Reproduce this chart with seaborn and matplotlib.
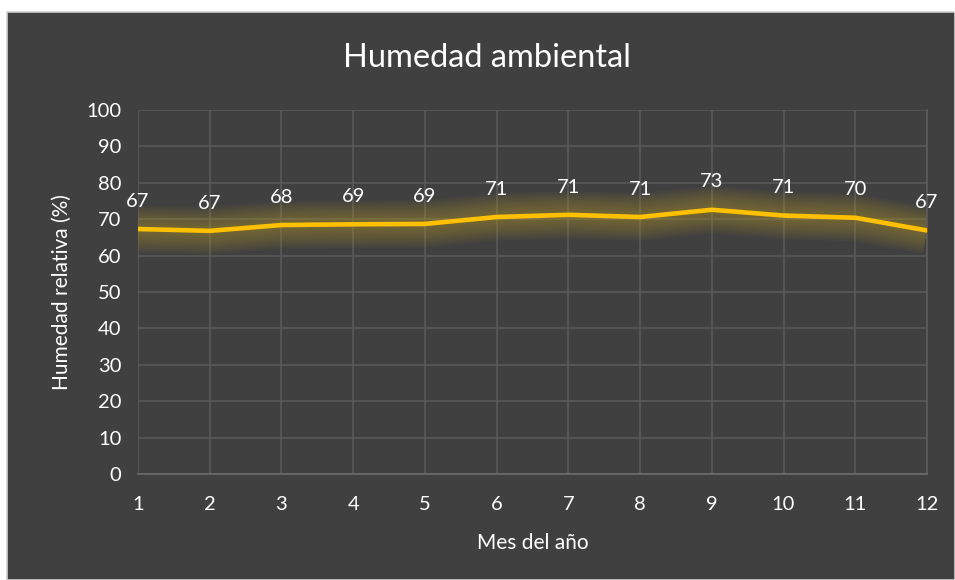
import pandas as pd
import matplotlib.pyplot as plt
import seaborn as sns
from matplotlib.patches import Rectangle

# Data
months = [1, 2, 3, 4, 5, 6, 7, 8, 9, 10, 11, 12]
humidity = [67.3, 66.8, 68.4, 68.6, 68.7, 70.6, 71.2, 70.6, 72.6, 71.0, 70.4, 66.9]
y_ticks = [0, 10, 20, 30, 40, 50, 60, 70, 80, 90, 100]

bg = "#404040"
grid = "#5b5b5b"
text = "#ffffff"
line_color = "#FFC000"

sns.set_theme(style="dark")
plt.rcParams["font.family"] = ["Lato", "DejaVu Sans"]


def main():
    df = pd.DataFrame({"Mes": months, "Humedad": humidity})

    fig = plt.figure(figsize=(9.55, 5.8), dpi=100)
    fig.patch.set_facecolor("white")
    # dark chart area with thin light border
    fig.add_artist(Rectangle((7 / 955, 0), 1 - 7 / 955, 1 - 12 / 580,
                             transform=fig.transFigure, facecolor=bg,
                             edgecolor="#d0d0d0", linewidth=1.2, zorder=0))

    ax = fig.add_axes([138 / 955, 1 - 474 / 580, 789 / 955, 364 / 580])
    ax.set_facecolor(bg)

    # soft glow under the line
    for w in range(34, 6, -3):
        ax.plot(df["Mes"], df["Humedad"], color="#b59a2a", lw=w, alpha=0.055,
                solid_capstyle="butt", solid_joinstyle="round", zorder=2)
    sns.lineplot(data=df, x="Mes", y="Humedad", color=line_color, lw=3.3,
                 ax=ax, zorder=3)

    for x, y in zip(months, humidity):
        ax.annotate(f"{round(y)}", (x, y), xytext=(0, 20), textcoords="offset points",
                    ha="center", va="center", color=text, fontsize=14.5, zorder=4)

    ax.set_xlim(1, 12)
    ax.set_ylim(0, 100)
    ax.set_xticks(months)
    ax.set_yticks(y_ticks)
    ax.grid(True, color=grid, linewidth=1.1)
    ax.set_axisbelow(True)
    for s in ax.spines.values():
        s.set_visible(False)
    ax.spines["right"].set_visible(True)
    ax.spines["right"].set_color(grid)
    ax.spines["bottom"].set_visible(True)
    ax.spines["bottom"].set_color("#6a6a6a")

    ax.tick_params(axis="x", colors=text, labelsize=14.5, length=0, pad=16)
    ax.tick_params(axis="y", colors=text, labelsize=14.5, length=0, pad=12)
    ax.set_xlabel("Mes del año", color=text, fontsize=15, labelpad=14)
    ax.set_ylabel("Humedad relativa (%)", color=text, fontsize=15, labelpad=10)

    fig.text(487 / 955, 1 - 58 / 580, "Humedad ambiental", color=text,
             fontsize=23.5, ha="center", va="center")

    fig.savefig("out.png", dpi=100, facecolor=fig.get_facecolor())


if __name__ == "__main__":
    main()
